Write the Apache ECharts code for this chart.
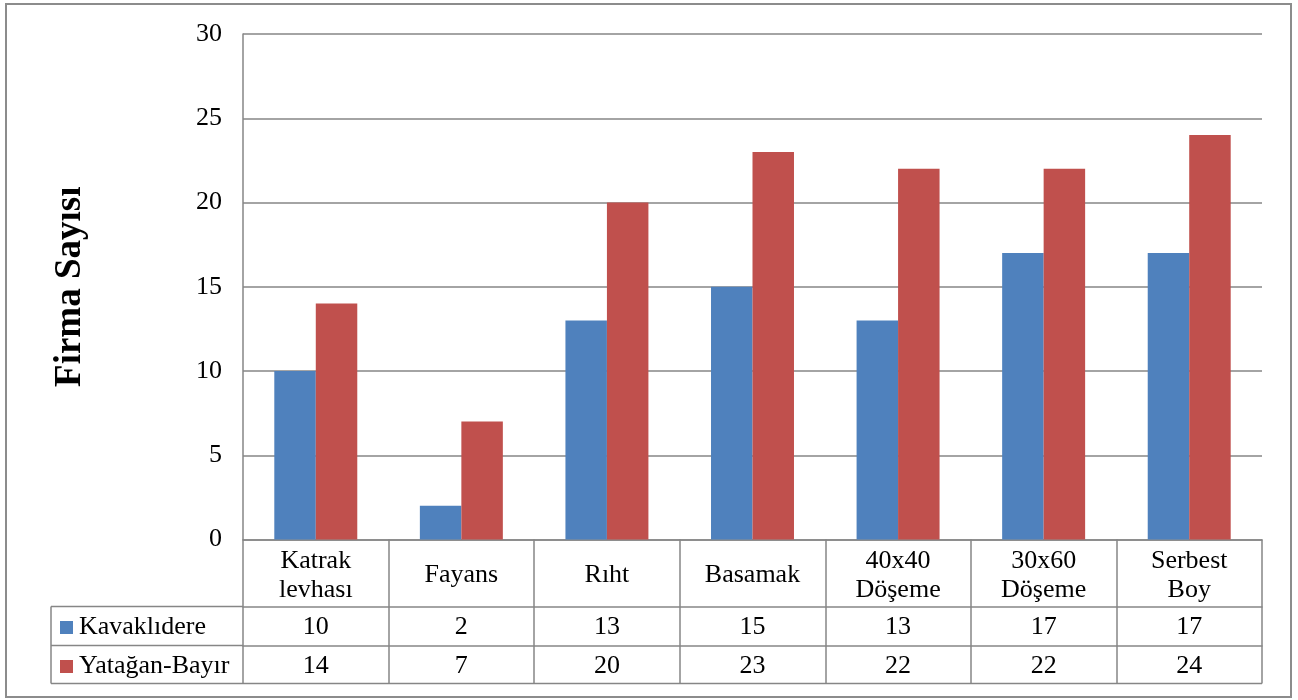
<!DOCTYPE html>
<html>
<head>
<meta charset="utf-8">
<script src="https://cdn.jsdelivr.net/npm/echarts@6/dist/echarts.min.js"></script>
<style>
  html, body { margin: 0; padding: 0; background: #fff; }
  #chart { width: 1298px; height: 700px; }
</style>
</head>
<body>
<div id="chart"></div>
<script>
// Product categories (two-line labels break with \n)
const categories = ['Katrak\nlevhası', 'Fayans', 'Rıht', 'Basamak', '40x40\nDöşeme', '30x60\nDöşeme', 'Serbest\nBoy'];
// Number of firms per region
const kavaklidere = [10, 2, 13, 15, 13, 17, 17];
const yataganBayir = [14, 7, 20, 23, 22, 22, 24];
const seriesNames = ['Kavaklıdere', 'Yatağan-Bayır'];
const yTicks = { min: 0, max: 30, interval: 5 };

const BLUE = '#4F81BD';
const RED = '#C0504D';
const LINE = '#868686';
const FONT = '"Liberation Serif", "Times New Roman", serif';

// Table geometry (data table under the plot)
const gridLeft = 243, gridRight = 36, gridTop = 34, gridBottom = 160.5;
const axisY = 700 - gridBottom;
const catRowH = 67, rowH1 = 39, rowH2 = 38;
const tableLeft = 51;

const chart = echarts.init(document.getElementById('chart'));

const labelBase = { color: '#000', fontFamily: FONT, fontSize: 26, verticalAlign: 'middle', lineHeight: 29 };

chart.setOption({
  animation: false,
  grid: { left: gridLeft, right: gridRight, top: gridTop, bottom: gridBottom, containLabel: false },
  legend: {
    orient: 'vertical',
    left: 60,
    top: axisY + catRowH + 8,
    padding: 0,
    itemWidth: 13,
    itemHeight: 13,
    itemGap: 13,
    icon: 'rect',
    textStyle: { color: '#000', fontFamily: FONT, fontSize: 26, lineHeight: 25, padding: [0, 0, 0, 1] },
    data: seriesNames
  },
  xAxis: [
    {
      type: 'category',
      data: categories,
      position: 'bottom',
      axisLine: { show: true, lineStyle: { color: LINE, width: 1.5 } },
      axisTick: { show: true, interval: 0, length: catRowH, lineStyle: { color: LINE, width: 1.5 } },
      axisLabel: Object.assign({ interval: 0, margin: catRowH / 2 + 2.5 }, labelBase),
      splitLine: { show: false }
    },
    {
      type: 'category',
      data: categories,
      position: 'bottom',
      offset: catRowH,
      axisLine: { show: true, lineStyle: { color: LINE, width: 1.5 } },
      axisTick: { show: true, interval: 0, length: rowH1, lineStyle: { color: LINE, width: 1.5 } },
      axisLabel: Object.assign({ interval: 0, margin: rowH1 / 2 + 1.5, formatter: (v, i) => String(kavaklidere[i]) }, labelBase)
    },
    {
      type: 'category',
      data: categories,
      position: 'bottom',
      offset: catRowH + rowH1,
      axisLine: { show: true, lineStyle: { color: LINE, width: 1.5 } },
      axisTick: { show: true, interval: 0, length: rowH2, lineStyle: { color: LINE, width: 1.5 } },
      axisLabel: Object.assign({ interval: 0, margin: rowH2 / 2 + 1.5, formatter: (v, i) => String(yataganBayir[i]) }, labelBase)
    }
  ],
  yAxis: {
    type: 'value',
    min: yTicks.min,
    max: yTicks.max,
    interval: yTicks.interval,
    name: 'Firma Sayısı',
    nameLocation: 'middle',
    nameRotate: 90,
    nameGap: 154,
    nameTextStyle: { color: '#000', fontFamily: FONT, fontSize: 37, fontWeight: 'bold' },
    axisLine: { show: true, lineStyle: { color: LINE, width: 1.5 } },
    axisTick: { show: false },
    axisLabel: { color: '#000', fontFamily: FONT, fontSize: 26, margin: 21 },
    splitLine: { show: true, lineStyle: { color: LINE, width: 1.5 } }
  },
  series: [
    {
      name: seriesNames[0],
      type: 'bar',
      xAxisIndex: 0,
      data: kavaklidere,
      barGap: '0%',
      barCategoryGap: '43%',
      itemStyle: { color: BLUE }
    },
    {
      name: seriesNames[1],
      type: 'bar',
      xAxisIndex: 0,
      data: yataganBayir,
      barGap: '0%',
      barCategoryGap: '43%',
      itemStyle: { color: RED }
    }
  ],
  graphic: [
    // outer chart frame
    { type: 'rect', shape: { x: 6, y: 4, width: 1285, height: 693 },
      style: { fill: null, stroke: '#8c8c8c', lineWidth: 2 }, silent: true },
    // legend column of the data table
    { type: 'line', shape: { x1: tableLeft, y1: axisY + catRowH, x2: gridLeft, y2: axisY + catRowH },
      style: { stroke: LINE, lineWidth: 1.5 } },
    { type: 'line', shape: { x1: tableLeft, y1: axisY + catRowH + rowH1, x2: gridLeft, y2: axisY + catRowH + rowH1 },
      style: { stroke: LINE, lineWidth: 1.5 } },
    { type: 'line', shape: { x1: tableLeft, y1: axisY + catRowH + rowH1 + rowH2, x2: 1298 - gridRight, y2: axisY + catRowH + rowH1 + rowH2 },
      style: { stroke: LINE, lineWidth: 1.5 } },
    { type: 'line', shape: { x1: tableLeft, y1: axisY + catRowH, x2: tableLeft, y2: axisY + catRowH + rowH1 + rowH2 },
      style: { stroke: LINE, lineWidth: 1.5 } }
  ]
});
</script>
</body>
</html>
